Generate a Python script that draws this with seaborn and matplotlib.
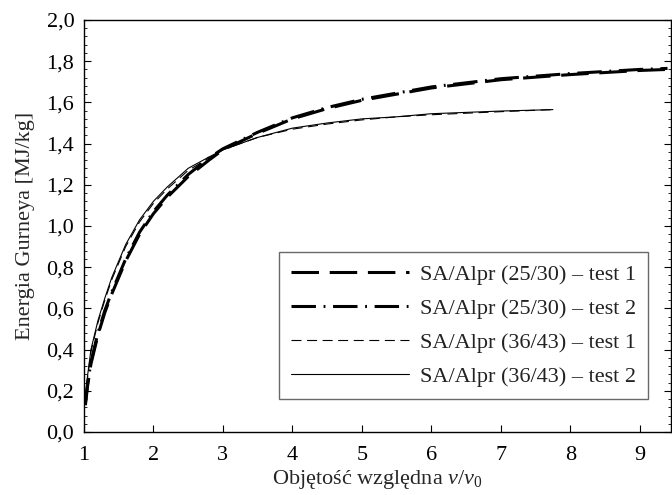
import numpy as np
import pandas as pd
import matplotlib
matplotlib.use("Agg")
import matplotlib.pyplot as plt
from matplotlib.ticker import MultipleLocator, FuncFormatter
import seaborn as sns

# Gurney energy vs relative volume
v_2530_t1 = [1.02, 1.05, 1.1, 1.2, 1.3, 1.4, 1.6, 1.8, 2.0, 2.2, 2.5, 2.8, 3.0, 3.5, 4.0, 4.5, 5.0, 5.5, 6.0, 7.0, 8.0, 9.0, 9.4]
e_2530_t1 = [0.13, 0.22, 0.33, 0.47, 0.58, 0.67, 0.83, 0.96, 1.06, 1.14, 1.24, 1.32, 1.37, 1.45, 1.52, 1.57, 1.61, 1.64, 1.67, 1.71, 1.735, 1.755, 1.76]

v_2530_t2 = [1.02, 1.05, 1.1, 1.2, 1.3, 1.4, 1.6, 1.8, 2.0, 2.2, 2.5, 2.8, 3.0, 3.5, 4.0, 4.5, 5.0, 5.5, 6.0, 7.0, 8.0, 9.0, 9.4]
e_2530_t2 = [0.14, 0.23, 0.34, 0.48, 0.59, 0.68, 0.84, 0.97, 1.07, 1.15, 1.25, 1.33, 1.375, 1.455, 1.525, 1.575, 1.615, 1.645, 1.675, 1.715, 1.74, 1.76, 1.765]

v_3643_t1 = [1.02, 1.05, 1.1, 1.2, 1.3, 1.4, 1.6, 1.8, 2.0, 2.2, 2.5, 2.8, 3.0, 3.5, 4.0, 4.5, 5.0, 5.5, 6.0, 7.0, 7.75]
e_3643_t1 = [0.15, 0.26, 0.39, 0.53, 0.64, 0.74, 0.90, 1.02, 1.11, 1.18, 1.27, 1.33, 1.37, 1.43, 1.47, 1.495, 1.515, 1.53, 1.54, 1.555, 1.565]

v_3643_t2 = [1.02, 1.05, 1.1, 1.2, 1.3, 1.4, 1.6, 1.8, 2.0, 2.2, 2.5, 2.8, 3.0, 3.5, 4.0, 4.5, 5.0, 5.5, 6.0, 7.0, 7.75]
e_3643_t2 = [0.16, 0.27, 0.40, 0.54, 0.65, 0.75, 0.91, 1.03, 1.12, 1.19, 1.28, 1.335, 1.37, 1.43, 1.475, 1.50, 1.52, 1.53, 1.545, 1.558, 1.565]

labels = ["SA/Alpr (25/30) – test 1", "SA/Alpr (25/30) – test 2",
          "SA/Alpr (36/43) – test 1", "SA/Alpr (36/43) – test 2"]
xs = [v_2530_t1, v_2530_t2, v_3643_t1, v_3643_t2]
ys = [e_2530_t1, e_2530_t2, e_3643_t1, e_3643_t2]

sns.set_theme(style="ticks")
plt.rcParams['font.family'] = ['Liberation Serif', 'DejaVu Serif']
plt.rcParams['mathtext.fontset'] = 'custom'
plt.rcParams['mathtext.it'] = 'Liberation Serif:italic'
plt.rcParams['mathtext.rm'] = 'Liberation Serif'

fs = 16

fig = plt.figure(figsize=(6.72, 4.95), dpi=100)
ax = fig.add_axes([0.125, 0.1273, 0.8735, 0.8323])

styles = [
    dict(lw=2.2, dashes=(9, 3.5)),
    dict(lw=2.2, dashes=(8, 2.5, 0.6, 2.5)),
    dict(lw=0.8, dashes=(9, 5)),
    dict(lw=0.8, dashes=()),
]

for x, y, lab, st in zip(xs, ys, labels, styles):
    df = pd.DataFrame({"v": x, "E": y})
    sns.lineplot(data=df, x="v", y="E", ax=ax, color="black", lw=st["lw"],
                 dashes=False, label=lab, sort=False)
    line = ax.lines[-1]
    if st["dashes"]:
        line.set_dashes(st["dashes"])

ax.set_xlim(1, 9.45)
ax.set_ylim(0, 2.0)
ax.xaxis.set_major_locator(MultipleLocator(1))
ax.yaxis.set_major_locator(MultipleLocator(0.2))
ax.yaxis.set_minor_locator(MultipleLocator(0.04))
ax.yaxis.set_major_formatter(FuncFormatter(lambda val, pos: f"{val:.1f}".replace(".", ",")))

ax.tick_params(axis="both", which="major", direction="in", length=5, width=0.8,
               labelsize=fs, colors="black")
ax.tick_params(axis="y", which="minor", direction="in", length=2.5, width=0.7)
ax.tick_params(axis="y", which="both", right=True)
ax.tick_params(axis="y", which="major", pad=7)
ax.tick_params(axis="x", which="major", pad=10)
for s in ax.spines.values():
    s.set_linewidth(1.0)
    s.set_color("black")

ax.set_xlabel("Objętość względna $\\mathit{v}/\\mathit{v}_0$", fontsize=fs, labelpad=2)
ax.set_ylabel("Energia Gurneya [MJ/kg]", fontsize=fs, labelpad=8)

leg = ax.legend(loc="lower left", bbox_to_anchor=(0.332, 0.080), borderaxespad=0,
                fontsize=fs, frameon=True, fancybox=False, edgecolor="#444444",
                handlelength=5.3, handletextpad=0.5, labelspacing=0.6,
                borderpad=0.55)
leg.get_frame().set_linewidth(1.0)
for t in leg.get_texts():
    t.set_color("#222222")

fig.savefig("out.png", dpi=100)
